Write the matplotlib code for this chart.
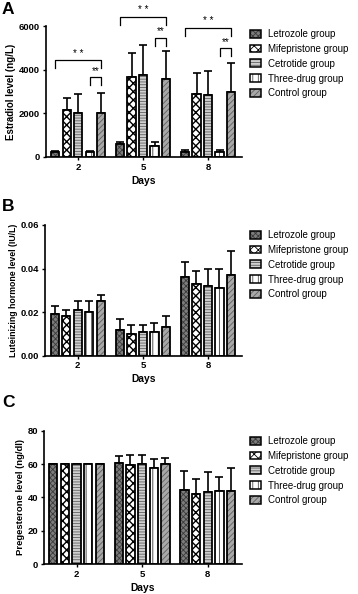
import numpy as np
import matplotlib
matplotlib.use('Agg')
import matplotlib.pyplot as plt
from matplotlib.patches import Patch

plt.rcParams['font.family'] = ['Liberation Sans', 'DejaVu Sans']
plt.rcParams['hatch.linewidth'] = 0.6

days = ['2', '5', '8']
groups = ['Letrozole group', 'Mifepristone group', 'Cetrotide group',
          'Three-drug group', 'Control group']

# Estradiol (ng/L): rows = groups, cols = days 2, 5, 8
e2_mean = [[240, 580, 250],
           [2150, 3680, 2900],
           [2030, 3770, 2850],
           [210, 520, 220],
           [2030, 3560, 2960]]
e2_sd = [[50, 120, 80],
         [570, 1100, 930],
         [840, 1360, 1070],
         [45, 180, 110],
         [915, 1280, 1360]]

# Luteinizing hormone (IU/L)
lh_mean = [[0.019, 0.012, 0.036],
           [0.018, 0.010, 0.033],
           [0.021, 0.011, 0.032],
           [0.020, 0.011, 0.031],
           [0.025, 0.013, 0.037]]
lh_sd = [[0.004, 0.005, 0.007],
         [0.003, 0.004, 0.006],
         [0.004, 0.003, 0.008],
         [0.005, 0.004, 0.009],
         [0.003, 0.005, 0.011]]

# Progesterone (ng/dl)
p_mean = [[60, 60.4, 44.4],
          [60, 59.2, 42.0],
          [60, 60.0, 43.0],
          [60, 57.4, 43.6],
          [60, 60.0, 44.0]]
p_sd = [[0, 4.6, 11.6],
        [0, 6.0, 9.0],
        [0, 5.5, 12.0],
        [0, 5.6, 8.8],
        [0, 3.4, 13.4]]

# significance brackets on panel A: (day index, group from, group to, level, label)
sig_brackets = [(0, 0, 4, 4440, '* *'), (0, 3, 4, 3650, '**'),
                (1, 0, 4, 6425, '* *'), (1, 3, 4, 5465, '**'),
                (2, 0, 4, 5920, '* *'), (2, 3, 4, 4980, '**')]

faces = ['#7c7c7c', '#ffffff', '#cfcfcf', '#ffffff', '#a8a8a8']
hcols = ['#3a3a3a', '#000000', '#606060', '#505050', '#606060']
hatches = ['xxxxxx', 'xxxx', '------', '|||', '//////']
hlw = [0.6, 1.0, 0.6, 0.7, 0.6]

W, H = 358, 594
fig = plt.figure(figsize=(W / 100, H / 100), dpi=100)

step = 0.177
width = 0.128
x = np.arange(len(days))


def panel(rect, means, sds, ylim, yticks, yticklabels, ylabel, ylabel_fs, letter, letter_y, leg_y):
    l, t, r, b = rect
    ax = fig.add_axes([l / W, 1 - b / H, (r - l) / W, (b - t) / H])
    handles = []
    for i in range(len(groups)):
        xs = x + (i - 2) * step
        with plt.rc_context({'hatch.linewidth': hlw[i]}):
            ax.bar(xs, means[i], width, color=faces[i], edgecolor=hcols[i],
                   hatch=hatches[i], linewidth=0, zorder=2)
            h1 = Patch(facecolor=faces[i], edgecolor=hcols[i], hatch=hatches[i], linewidth=0)
        ax.bar(xs, means[i], width, fill=False, edgecolor='black',
               linewidth=1.3, zorder=3)
        err = np.array(sds[i], dtype=float)
        ax.errorbar(xs, means[i], yerr=[np.zeros_like(err), err], fmt='none',
                    ecolor='black', elinewidth=1.2, capsize=2.6, capthick=1.2,
                    zorder=1)
        h2 = Patch(fill=False, edgecolor='black', linewidth=1.1)
        handles.append((h1, h2))
    ax.set_xlim(-0.503, 2.518)
    ax.set_ylim(*ylim)
    ax.set_yticks(yticks)
    ax.set_yticklabels(yticklabels)
    ax.set_xticks(x)
    ax.set_xticklabels(days)
    for s in ['top', 'right']:
        ax.spines[s].set_visible(False)
    for s in ['left', 'bottom']:
        ax.spines[s].set_linewidth(1.2)
    ax.tick_params(axis='both', length=2.5, width=1.0, labelsize=6.8, pad=1.5)
    for lab in ax.get_xticklabels() + ax.get_yticklabels():
        lab.set_fontweight('bold')
    ax.set_xlabel('Days', fontsize=7.4, fontweight='bold', labelpad=3)
    ax.set_ylabel(ylabel, fontsize=ylabel_fs, fontweight='bold', labelpad=2)
    fig.text(2 / W, 1 - letter_y / H, letter, fontsize=12.5, fontweight='bold',
             va='top', ha='left')
    fig.legend(handles, groups, loc='upper left',
               bbox_to_anchor=(250 / W, 1 - leg_y / H), frameon=False,
               fontsize=7, handlelength=1.15, handleheight=0.85,
               handletextpad=0.75, labelspacing=0.5, borderaxespad=0,
               borderpad=0)
    return ax


axA = panel((45.5, 26, 241.7, 157), e2_mean, e2_sd, (0, 6000),
            [0, 2000, 4000, 6000], ['0', '2000', '4000', '6000'],
            'Estradiol level (ng/L)', 7.0, 'A', 2, 29)
axB = panel((45, 225, 241.7, 355.7), lh_mean, lh_sd, (0, 0.06),
            [0, 0.02, 0.04, 0.06], ['0.00', '0.02', '0.04', '0.06'],
            'Luteinizing hormone level (IU/L)', 6.3, 'B', 199, 230)
axC = panel((43.5, 430.7, 241.7, 564), p_mean, p_sd, (0, 80),
            [0, 20, 40, 60, 80], ['0', '20', '40', '60', '80'],
            'Pregesterone level (ng/dl)', 6.8, 'C', 395, 436)

# significance brackets
for d, g1, g2, lvl, lab in sig_brackets:
    x1 = x[d] + (g1 - 2) * step
    x2 = x[d] + (g2 - 2) * step
    drop = 370
    axA.plot([x1, x1, x2, x2], [lvl - drop, lvl, lvl, lvl - drop], color='black',
             linewidth=0.9, clip_on=False, zorder=4)
    axA.text((x1 + x2) / 2, lvl + 60, lab, ha='center', va='bottom',
             fontsize=7, clip_on=False)

fig.savefig('out.png', dpi=100)
